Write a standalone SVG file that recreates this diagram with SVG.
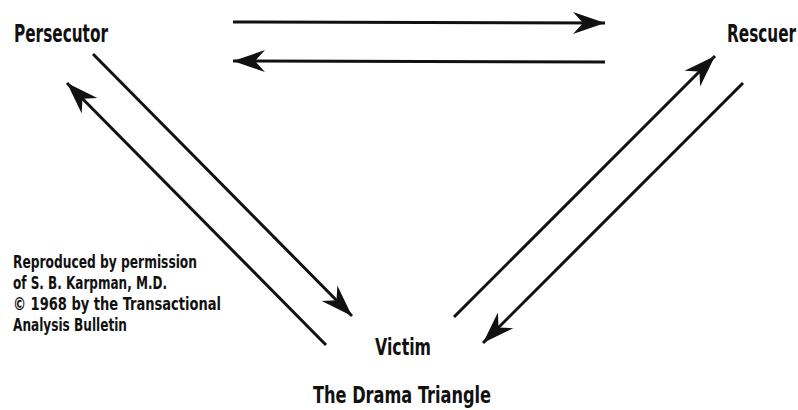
<svg xmlns="http://www.w3.org/2000/svg" width="798" height="410" viewBox="0 0 798 410">
<defs>
<style>
.lbl{font-family:"DejaVu Sans Condensed","DejaVu Sans",sans-serif;font-weight:bold;fill:#111;}
.big{font-size:25px;}
.mid{font-size:23px;}
.small{font-size:17px;}
.conn line{stroke:#111;stroke-width:3;fill:none;marker-end:url(#ah);}
</style>
<marker id="ah" markerUnits="userSpaceOnUse" viewBox="-34 -14 36 28" refX="0" refY="0" markerWidth="36" markerHeight="28" orient="auto">
<path d="M0,0 L-32,-11 L-22,0 L-32,11 Z" fill="#111"/>
</marker>
</defs>
<rect width="798" height="410" fill="#fff"/>
<g id="persecutor"><text class="lbl big" x="14" y="42" textLength="94" lengthAdjust="spacingAndGlyphs">Persecutor</text></g>
<g id="rescuer" transform="translate(727,42) scale(1,1.45)"><text class="lbl" style="font-size:17px" x="0" y="0">Rescuer</text></g>
<g id="victim"><text class="lbl mid" x="375" y="355" textLength="56" lengthAdjust="spacingAndGlyphs">Victim</text></g>
<g id="title"><text class="lbl mid" x="313" y="403" textLength="178" lengthAdjust="spacingAndGlyphs">The Drama Triangle</text></g>
<g id="credit">
<text class="lbl small" x="13" y="268" textLength="184" lengthAdjust="spacingAndGlyphs">Reproduced by permission</text>
<text class="lbl small" x="13" y="289" textLength="154" lengthAdjust="spacingAndGlyphs">of S. B. Karpman, M.D.</text>
<text class="lbl small" x="13" y="310" textLength="208" lengthAdjust="spacingAndGlyphs">© 1968 by the Transactional</text>
<text class="lbl small" x="13" y="331" textLength="114" lengthAdjust="spacingAndGlyphs">Analysis Bulletin</text>
</g>
<g id="connectors" class="conn">
<line x1="233" y1="22" x2="605" y2="23"/>
<line x1="605" y1="62" x2="233" y2="61"/>
<line x1="93" y1="54" x2="352" y2="316"/>
<line x1="326" y1="345" x2="67" y2="83"/>
<line x1="454" y1="317" x2="715" y2="56"/>
<line x1="743" y1="83" x2="483" y2="343"/>
</g>
</svg>
